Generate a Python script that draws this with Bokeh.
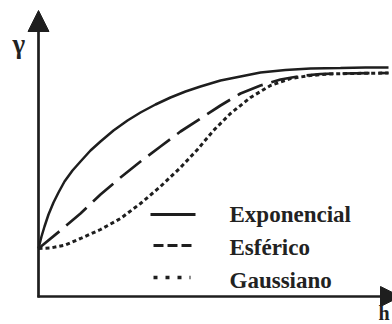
from bokeh.plotting import figure
from bokeh.models import Range1d, Arrow, NormalHead, Label, ColumnDataSource
from bokeh.core.properties import value
from bokeh.embed import file_html
from bokeh.resources import INLINE

# Semivariogram models: lag distance h and semivariance gamma (arbitrary units)
exp_h = [0, 3, 6, 10, 15, 20, 26, 34, 42, 52, 62, 75, 89, 102, 117, 132, 147,
         162, 182, 202, 222, 247, 272, 302, 327, 350]
exp_gamma = [48, 60, 70, 82, 94, 104, 115, 126, 135, 146, 155, 166, 176, 184,
             192, 199, 205, 210, 216, 220, 224, 226.5, 228, 228.5, 229, 229]

sph_h = [0, 22, 42, 62, 82, 102, 122, 142, 162, 182, 202, 222, 242, 262, 282,
         302, 350]
sph_gamma = [48, 66, 83, 102, 119, 135, 150, 165, 178, 191, 203, 211, 217,
             220.5, 222.5, 223, 223.5]

gau_h = [0, 12, 27, 42, 62, 82, 102, 122, 142, 159, 175, 192, 212, 232, 252,
         272, 292, 312, 350]
gau_gamma = [48, 48.5, 51.5, 58, 67, 78, 93, 110, 129, 147, 166, 183, 199, 211,
             218, 221, 222.5, 223, 223.5]

model_names = ["Exponencial", "Esférico", "Gaussiano"]

INK = "#1e1e1e"
TEXT = "#222222"
SERIF = "Liberation Serif"

p = figure(width=392, height=324, output_backend="svg", toolbar_location=None,
           x_range=Range1d(-38, 354), y_range=Range1d(-28, 296),
           min_border=0)
p.axis.visible = False
p.grid.visible = False
p.outline_line_color = None
p.background_fill_color = "white"
p.border_fill_color = "white"

# axes drawn as arrows
p.add_layout(Arrow(x_start=0, y_start=-1, x_end=0, y_end=286,
                   line_color=INK, line_width=2.7,
                   end=NormalHead(size=21, fill_color=INK, line_color=INK,
                                  line_width=1)))
p.add_layout(Arrow(x_start=-1, y_start=0, x_end=362, y_end=0,
                   line_color=INK, line_width=2.7,
                   end=NormalHead(size=20, fill_color=INK, line_color=INK,
                                  line_width=1)))

# model curves
p.line(exp_h, exp_gamma, line_color=INK, line_width=2.5)
p.line(sph_h, sph_gamma, line_color=INK, line_width=2.7, line_dash="27 9")
p.line(gau_h, gau_gamma, line_color=INK, line_width=3, line_dash="4 3")

# legend samples
p.line([112, 157], [82, 82], line_color=INK, line_width=3)
p.line([115, 154], [51, 51], line_color=INK, line_width=3.2, line_dash="10 4")
p.line([115, 152], [19, 19], line_color=INK, line_width=3.6, line_dash="4 8")

src = ColumnDataSource(dict(x=[191, 191, 191], y=[82.5, 49, 16],
                            name=model_names))
p.text(x="x", y="y", text="name", source=src, text_font=value(SERIF),
       text_font_style="bold", text_font_size="23px", text_color=TEXT,
       text_baseline="alphabetic", text_align="left")

p.add_layout(Label(x=-26, y=253, text="γ", text_font=SERIF,
                   text_font_style="bold", text_font_size="27px",
                   text_color=TEXT, text_baseline="alphabetic"))
p.add_layout(Label(x=340, y=-27, text="h", text_font=SERIF,
                   text_font_style="bold", text_font_size="20px",
                   text_color=TEXT, text_baseline="bottom"))

open("out.html", "w").write(file_html(p, INLINE))
